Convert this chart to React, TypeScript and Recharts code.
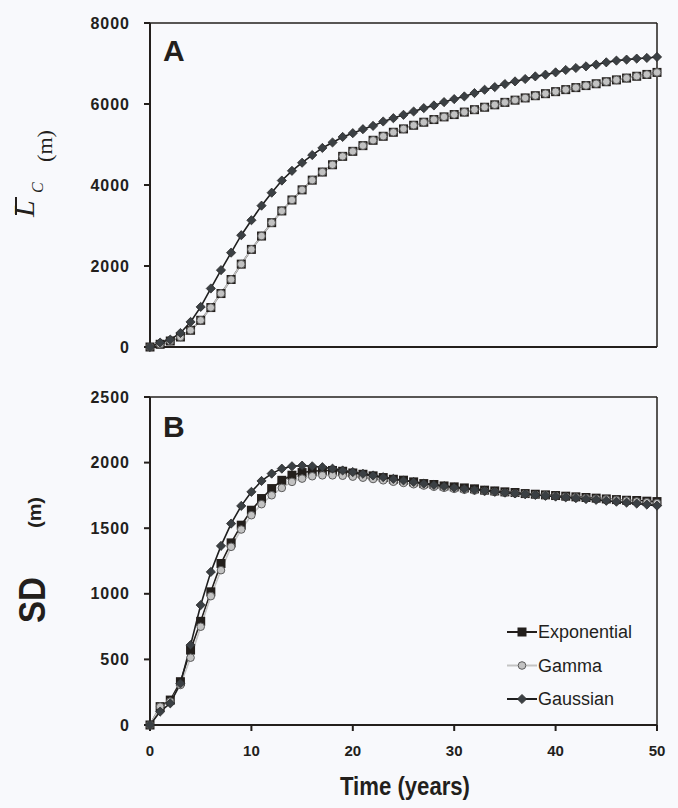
import { LineChart, Line, XAxis, YAxis, ReferenceLine, Legend } from "recharts";

const years = Array.from({ length: 51 }, (_, i) => i);
const xTicks = [0, 10, 20, 30, 40, 50];
const topTicks = [0, 2000, 4000, 6000, 8000];
const bottomTicks = [0, 500, 1000, 1500, 2000, 2500];

// panel A: mean L_C (m)
const topExponential = [
  0, 67, 148, 247, 413, 660, 974, 1320, 1667, 2046, 2410,
  2740, 3070, 3360, 3630, 3880, 4120, 4320, 4500, 4707, 4831,
  4972, 5104, 5203, 5302, 5385, 5475, 5550, 5616, 5682, 5739,
  5800, 5860, 5920, 5980, 6040, 6095, 6150, 6205, 6255, 6305,
  6355, 6405, 6455, 6500, 6550, 6595, 6640, 6685, 6730, 6780,
];
const topGamma = [
  0, 67, 148, 247, 413, 660, 974, 1320, 1667, 2046, 2410,
  2740, 3070, 3360, 3630, 3880, 4120, 4320, 4500, 4707, 4831,
  4972, 5104, 5203, 5302, 5385, 5475, 5550, 5616, 5682, 5739,
  5800, 5860, 5920, 5980, 6040, 6095, 6150, 6205, 6255, 6305,
  6355, 6405, 6455, 6500, 6550, 6595, 6640, 6685, 6730, 6780,
];
const topGaussian = [
  0, 109, 183, 346, 619, 990, 1445, 1898, 2330, 2760, 3130,
  3490, 3810, 4110, 4350, 4550, 4740, 4915, 5050, 5187, 5280,
  5378, 5460, 5568, 5650, 5733, 5815, 5898, 5964, 6047, 6121,
  6187, 6270, 6352, 6418, 6492, 6558, 6617, 6682, 6724, 6781,
  6840, 6889, 6930, 6972, 7029, 7071, 7096, 7121, 7137, 7162,
];

// panel B: SD (m)
const sdExponential = [
  0, 140, 190, 330, 571, 790, 1015, 1231, 1388, 1523, 1637,
  1726, 1802, 1865, 1904, 1924, 1934, 1940, 1940, 1934, 1921,
  1911, 1899, 1886, 1873, 1866, 1853, 1840, 1833, 1822, 1815,
  1807, 1800, 1790, 1784, 1777, 1772, 1764, 1759, 1754, 1749,
  1744, 1739, 1734, 1729, 1723, 1718, 1713, 1711, 1706, 1703,
];
const sdGamma = [
  0, 140, 178, 305, 513, 749, 982, 1180, 1358, 1490, 1599,
  1683, 1751, 1807, 1853, 1878, 1896, 1903, 1903, 1900, 1893,
  1885, 1875, 1865, 1854, 1845, 1835, 1825, 1816, 1808, 1800,
  1793, 1787, 1781, 1775, 1770, 1765, 1760, 1755, 1750, 1745,
  1740, 1735, 1730, 1725, 1720, 1715, 1710, 1704, 1698, 1692,
];
const sdGaussian = [
  0, 102, 165, 317, 609, 914, 1167, 1365, 1535, 1670, 1777,
  1860, 1916, 1954, 1972, 1977, 1972, 1965, 1954, 1940, 1928,
  1915, 1902, 1889, 1876, 1864, 1852, 1840, 1830, 1820, 1810,
  1801, 1793, 1785, 1778, 1771, 1765, 1759, 1753, 1747, 1741,
  1735, 1729, 1722, 1716, 1709, 1702, 1695, 1688, 1680, 1672,
];

const topData = years.map((t, i) => ({
  t,
  Exponential: topExponential[i],
  Gamma: topGamma[i],
  Gaussian: topGaussian[i],
}));
const sdData = years.map((t, i) => ({
  t,
  Exponential: sdExponential[i],
  Gamma: sdGamma[i],
  Gaussian: sdGaussian[i],
}));

const INK = "#231f1c";
const FONT = '"Liberation Sans", Arial, sans-serif';
const SERIF = '"Liberation Serif", "Times New Roman", serif';

const yTick = { fontSize: 16, fontWeight: 700, fill: INK, fontFamily: FONT, letterSpacing: 1 };
const xTick = { fontSize: 15, fontWeight: 700, fill: INK, fontFamily: FONT };

function Square(props: any) {
  const { cx, cy, index } = props;
  if (cx == null || cy == null) return <g key={index} />;
  return <rect key={index} x={cx - 4.5} y={cy - 4.5} width={9} height={9} fill={INK} />;
}

function Circle(props: any) {
  const { cx, cy, index } = props;
  if (cx == null || cy == null) return <g key={index} />;
  return <circle key={index} cx={cx} cy={cy} r={3.8} fill="#c2c2c2" stroke="#5c5c5c" strokeWidth={1} />;
}

function Diamond(props: any) {
  const { cx, cy, index } = props;
  if (cx == null || cy == null) return <g key={index} />;
  const s = 4.6;
  return (
    <polygon
      key={index}
      points={`${cx},${cy - s} ${cx + s},${cy} ${cx},${cy + s} ${cx - s},${cy}`}
      fill="#3b4044"
      stroke="#2a2a2a"
      strokeWidth={0.8}
    />
  );
}

const markerFor: Record<string, (p: any) => any> = {
  Exponential: Square,
  Gamma: Circle,
  Gaussian: Diamond,
};
const lineColor: Record<string, string> = {
  Exponential: INK,
  Gamma: "#c4c4c4",
  Gaussian: "#1f1f1f",
};

function LegendBox(props: any) {
  const items = props.payload || [];
  return (
    <svg width={150} height={100}>
      {items.map((it: any, i: number) => {
        const y = 12 + i * 33.5;
        const M = markerFor[it.value];
        return (
          <g key={it.value}>
            <line x1={2} x2={32} y1={y} y2={y} stroke={lineColor[it.value]} strokeWidth={2} />
            <M cx={17} cy={y} index={i} />
            <text x={33} y={y + 6} fontSize={18} fill={INK} fontFamily={FONT}>
              {it.value}
            </text>
          </g>
        );
      })}
    </svg>
  );
}

function seriesLines() {
  return [
    <Line
      key="e"
      dataKey="Exponential"
      stroke={INK}
      strokeWidth={1.6}
      dot={Square}
      activeDot={false}
      isAnimationActive={false}
    />,
    <Line
      key="g"
      dataKey="Gamma"
      stroke="#c4c4c4"
      strokeWidth={1.6}
      dot={Circle}
      activeDot={false}
      isAnimationActive={false}
    />,
    <Line
      key="n"
      dataKey="Gaussian"
      stroke="#1f1f1f"
      strokeWidth={1.6}
      dot={Diamond}
      activeDot={false}
      isAnimationActive={false}
    />,
  ];
}

export default function App() {
  return (
    <div
      style={{
        position: "absolute",
        left: 0,
        top: 0,
        width: 678,
        height: 808,
        background: "#f8f9fc",
        fontFamily: FONT,
      }}
    >
      <div style={{ position: "absolute", left: 0, top: 0 }}>
        <LineChart width={678} height={360} data={topData} margin={{ top: 23, right: 21, left: 90, bottom: 3 }}>
          <XAxis
            dataKey="t"
            type="number"
            domain={[0, 50]}
            ticks={xTicks}
            tick={false}
            height={10}
            tickSize={6}
            axisLine={{ stroke: INK, strokeWidth: 2 }}
            tickLine={{ stroke: INK, strokeWidth: 2 }}
          />
          <YAxis
            type="number"
            domain={[0, 8000]}
            ticks={topTicks}
            width={60}
            tickSize={6}
            tickMargin={14}
            tick={yTick}
            axisLine={{ stroke: INK, strokeWidth: 2 }}
            tickLine={{ stroke: INK, strokeWidth: 2 }}
          />
          <ReferenceLine y={8000} stroke={INK} strokeWidth={1.5} />
          <ReferenceLine x={50} stroke={INK} strokeWidth={1.5} />
          {seriesLines()}
        </LineChart>
      </div>
      <div style={{ position: "absolute", left: 0, top: 380 }}>
        <LineChart width={678} height={428} data={sdData} margin={{ top: 17, right: 21, left: 90, bottom: 43 }}>
          <XAxis
            dataKey="t"
            type="number"
            domain={[0, 50]}
            ticks={xTicks}
            height={40}
            tickSize={6}
            tickMargin={14}
            tick={xTick}
            axisLine={{ stroke: INK, strokeWidth: 2 }}
            tickLine={{ stroke: INK, strokeWidth: 2 }}
          />
          <YAxis
            type="number"
            domain={[0, 2500]}
            ticks={bottomTicks}
            width={60}
            tickSize={6}
            tickMargin={14}
            tick={yTick}
            axisLine={{ stroke: INK, strokeWidth: 2 }}
            tickLine={{ stroke: INK, strokeWidth: 2 }}
          />
          <ReferenceLine y={2500} stroke={INK} strokeWidth={1.5} />
          <ReferenceLine x={50} stroke={INK} strokeWidth={1.5} />
          {seriesLines()}
          <Legend
            layout="vertical"
            align="center"
            verticalAlign="middle"
            content={<LegendBox />}
            wrapperStyle={{ position: "absolute", left: 505, top: 240, width: 150, height: 100 }}
          />
        </LineChart>
      </div>
      <svg
        width={678}
        height={808}
        style={{ position: "absolute", left: 0, top: 0, pointerEvents: "none" }}
      >
        <text x={163} y={61} fontSize={30} fontWeight={700} fill={INK} fontFamily={FONT}>A</text>
        <text x={163} y={437} fontSize={30} fontWeight={700} fill={INK} fontFamily={FONT}>B</text>

        <g fill={INK}>
          <text transform="translate(34,217) rotate(-90)" fontSize={30} fontStyle="italic" fontFamily={SERIF}>L</text>
          <line x1={16} x2={16} y1={197} y2={215} stroke={INK} strokeWidth={2} />
          <text transform="translate(43,193) rotate(-90)" fontSize={16} fontStyle="italic" fontFamily={SERIF}>C</text>
          <text
            transform="translate(52,162) rotate(-90)"
            fontSize={22}
            fontFamily={SERIF}
            textLength={32}
            lengthAdjust="spacingAndGlyphs"
          >
            (m)
          </text>

          <text
            transform="translate(45,623) rotate(-90)"
            fontSize={36}
            fontWeight={700}
            fontFamily={FONT}
            textLength={46}
            lengthAdjust="spacingAndGlyphs"
          >
            SD
          </text>
          <text
            transform="translate(41,528) rotate(-90)"
            fontSize={18}
            fontWeight={700}
            fontFamily={FONT}
            textLength={31}
            lengthAdjust="spacingAndGlyphs"
          >
            (m)
          </text>

          <text
            x={340}
            y={795}
            fontSize={26}
            fontWeight={700}
            fontFamily={FONT}
            textLength={130}
            lengthAdjust="spacingAndGlyphs"
          >
            Time (years)
          </text>
        </g>
      </svg>
    </div>
  );
}
